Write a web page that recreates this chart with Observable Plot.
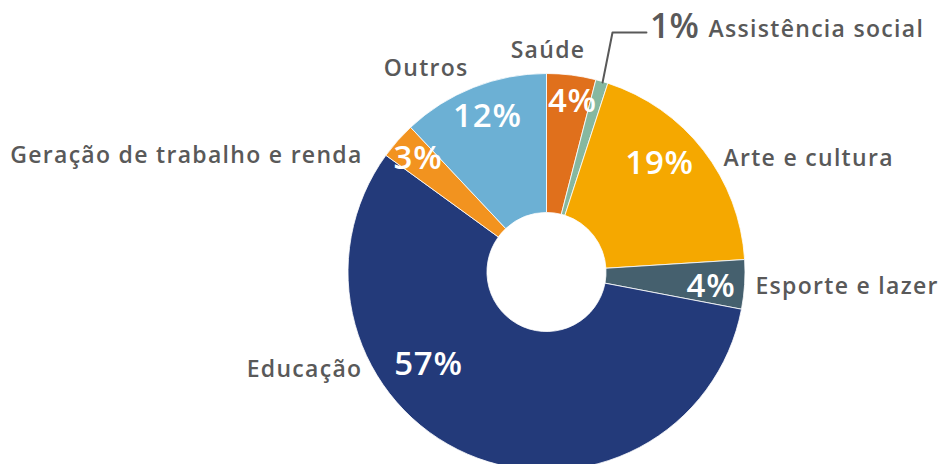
<!DOCTYPE html>
<html>
<head>
<meta charset="utf-8">
<script src="https://cdn.jsdelivr.net/npm/d3@7"></script>
<script src="https://cdn.jsdelivr.net/npm/@observablehq/plot@0.6"></script>
<style>
  html, body { margin: 0; padding: 0; background: #fff; }
  #chart { width: 938px; height: 464px; }
</style>
</head>
<body>
<div id="chart"></div>
<script>
// ---- data ----
const categories = ["Saúde", "Assistência social", "Arte e cultura", "Esporte e lazer", "Educação", "Geração de trabalho e renda", "Outros"];
const values = [4, 1, 19, 4, 57, 3, 12];
const percentLabels = ["4%", "1%", "19%", "4%", "57%", "3%", "12%"];
const colors = ["#E0701C", "#86B8A0", "#F5A800", "#45606E", "#233A7A", "#F2931F", "#6CB0D4"];

// ---- label placement (in units of the outer radius, relative to centre) ----
const catLabelX = [0.005, 0.814, 0.889, 1.050, -0.930, -0.929, -0.395];
const catLabelY = [1.118, 1.226, 0.576, -0.069, -0.487, 0.591, 1.025];
const catAnchor = ["middle", "start", "start", "start", "end", "end", "end"];
const pctLabelX = [0.128, 0.642, 0.567, 0.826, -0.597, -0.650, -0.300];
const pctLabelY = [0.864, 1.237, 0.547, -0.068, -0.465, 0.577, 0.784];
const pctOutside = [false, true, false, false, false, false, false];
const leaderX = [0.280, 0.330, 0.501];
const leaderY = [0.957, 1.209, 1.209];

const W = 938, H = 464, CX = 546.5, CY = 272, R = 198.5, innerFrac = 0.30;

const rows = categories.map((c, i) => ({
  category: c, value: values[i], pct: percentLabels[i], color: colors[i],
  cx: catLabelX[i], cy: catLabelY[i], anchor: catAnchor[i],
  px: pctLabelX[i], py: pctLabelY[i], outside: pctOutside[i]
}));
const leader = leaderX.map((x, i) => ({x, y: leaderY[i]}));

const arcs = d3.pie().sort(null).value(d => d.value).startAngle(0).endAngle(2 * Math.PI)(rows);

const donut = (index, scales) => {
  const x0 = scales.x(0), y0 = scales.y(0);
  const r = scales.x(1) - scales.x(0);
  const arc = d3.arc().innerRadius(r * innerFrac).outerRadius(r);
  const g = d3.create("svg:g").attr("transform", `translate(${x0},${y0})`);
  g.selectAll("path").data(arcs).join("path")
    .attr("d", arc)
    .attr("fill", d => d.data.color)
    .attr("stroke", "#ffffff")
    .attr("stroke-width", 0.8)
    .attr("stroke-linejoin", "round");
  return g.node();
};

const FONT = "Open Sans, Lato, sans-serif";
const GRAY = "#595959";

const catText = anchor => Plot.text(rows.filter(d => d.anchor === anchor), {
  x: "cx", y: "cy", text: "category", textAnchor: anchor,
  fontSize: 23, fontWeight: 600, fill: GRAY, fontFamily: FONT
});

const chart = Plot.plot({
  width: W, height: H,
  margin: 0,
  x: {domain: [-CX / R, (W - CX) / R], range: [0, W], axis: null},
  y: {domain: [-(H - CY) / R, CY / R], range: [H, 0], axis: null},
  style: {fontFamily: FONT, background: "#fff"},
  marks: [
    donut,
    Plot.line(leader, {x: "x", y: "y", stroke: GRAY, strokeWidth: 2}),
    catText("middle"),
    catText("start"),
    catText("end"),
    Plot.text(rows.filter(d => !d.outside), {
      x: "px", y: "py", text: "pct", textAnchor: "middle",
      fontSize: 33, fontWeight: 600, fill: "#ffffff", fontFamily: FONT
    }),
    Plot.text(rows.filter(d => d.outside), {
      x: "px", y: "py", text: "pct", textAnchor: "middle",
      fontSize: 34, fontWeight: 600, fill: GRAY, fontFamily: FONT
    })
  ]
});

// widen labels slightly to approximate the original geometric typeface
chart.querySelectorAll('g[font-size="23"]').forEach(g => g.setAttribute("letter-spacing", "1.3"));
chart.querySelectorAll('g[font-size="33"]').forEach(g => g.setAttribute("letter-spacing", "0.8"));

document.getElementById("chart").appendChild(chart);
</script>
</body>
</html>
